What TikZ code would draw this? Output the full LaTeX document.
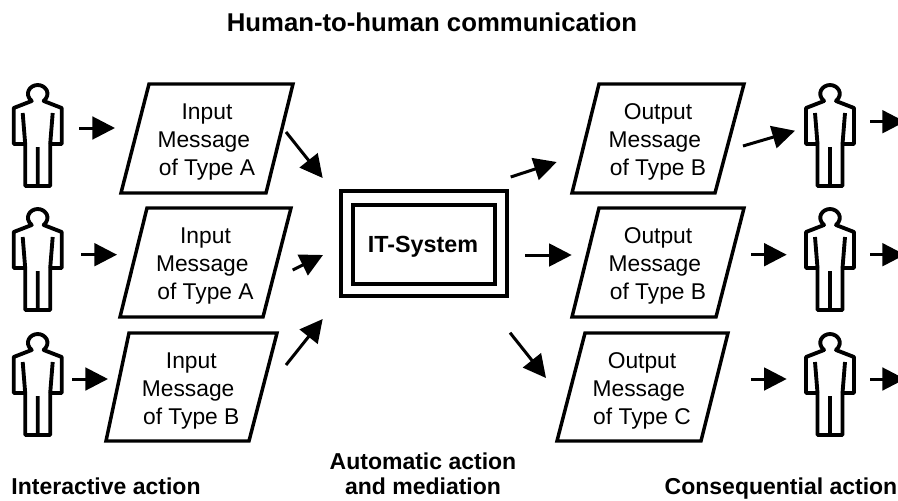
\documentclass[tikz,border=0pt]{standalone}
\usepackage{fontspec}
\setmainfont{Liberation Sans}
\usetikzlibrary{arrows.meta}
\newcommand{\msg}{\mbox{Message\kern.278em}}
\tikzset{
  x=0.75pt,y=-0.75pt,
  ln/.style={line width=2.6pt,line join=miter},
  para/.style={draw=none,fill=none,inner sep=0pt,align=center,font=\fontsize{17.1}{21}\selectfont},
  figure/.style={line width=2.9pt,line join=round,fill=white},
  flow/.style={line width=2.25pt,-{Triangle[length=17pt,width=17pt]}},
  caption/.style={inner sep=0pt,align=center,font=\bfseries\fontsize{17.25}{19}\selectfont},
  person/.pic={
    \draw[figure] (-6,16) .. controls (-14,9) and (-8,0) .. (0,0) .. controls (8,0) and (14,9) .. (6,16)
      -- (24,23) -- (24,59) -- (12.5,59) -- (12.5,101) -- (-12.5,101) -- (-12.5,59) -- (-24,59) -- (-24,23) -- cycle;
    \draw[line width=2.9pt] (-15,28) -- (-12.5,59) (15,28) -- (12.5,59) (0,62) -- (0,101);
  }
}
\begin{document}
\begin{tikzpicture}
\clip (0,0) rectangle (898,500);
\useasboundingbox (0,0) rectangle (898,500);
% persons
\foreach \n/\px/\py in {pa/37.7/85,pb/37.7/209,pc/37.7/334,pd/830/85,pe/830/209,pf/830/334}{
  \coordinate (\n) at (\px,\py);
  \pic at (\n) {person};
}
% parallelograms
\newcommand{\quadbox}[6]{%
  \draw[ln] (#1,#2) -- (#3,#2) -- (#4,#5) -- (#6,#5) -- cycle;}
\quadbox{149}{84}{293}{266}{193}{121}
\quadbox{147}{208}{291}{263}{317}{120}
\quadbox{129}{333}{277}{249}{441}{106}
\quadbox{599}{84}{744}{715}{193}{572}
\quadbox{599}{208}{744}{716}{317}{572}
\quadbox{585}{333}{728}{701}{441}{557}
\node[para] (ia) at (207,142) {Input\\\msg\\of Type A};
\node[para] (ib) at (205.5,266) {Input\\\msg\\of Type A};
\node[para] (ic) at (191.3,391) {Input\\\msg\\of Type B};
\node[para] (oa) at (658,142) {Output\\\msg\\of Type B};
\node[para] (ob) at (658,266) {Output\\\msg\\of Type B};
\node[para] (oc) at (642,391) {Output\\\msg\\of Type C};
% system
\draw[line width=3pt] (341,191) rectangle (507,296);
\draw[line width=3pt] (353,204.7) rectangle (495,284.3);
\node[inner sep=0pt,font=\bfseries\fontsize{17.5}{21}\selectfont] (sys) at (423,247) {IT-System};
% arrows
\foreach \a/\b/\c/\d in {
 79/128/115/128, 81/254.7/117/254.7, 72/379/108/379,
 286/132/322.7/178, 292.7/270/323/255, 286/365/322.7/319,
 510.7/177/556.7/162, 525/255/571.7/255, 510/332.7/546/378,
 743/146/795/130.7, 751/254.7/786.7/254.7, 751/379/786.7/379,
 870/121.7/905/121.7, 870/254.7/905/254.7, 870/379/905/379}{
  \draw[flow] (\a,\b) -- (\c,\d);
}
% labels
\node[inner sep=0pt,font=\bfseries\fontsize{19.3}{23}\selectfont] (t) at (432,22.5) {Human-to-human communication};
\node[caption] (la) at (106,486.5) {Interactive action};
\node[caption] (lb) at (423,473.5) {Automatic action\\and mediation};
\node[caption] (lc) at (781,489) {Consequential action};
\end{tikzpicture}
\end{document}
